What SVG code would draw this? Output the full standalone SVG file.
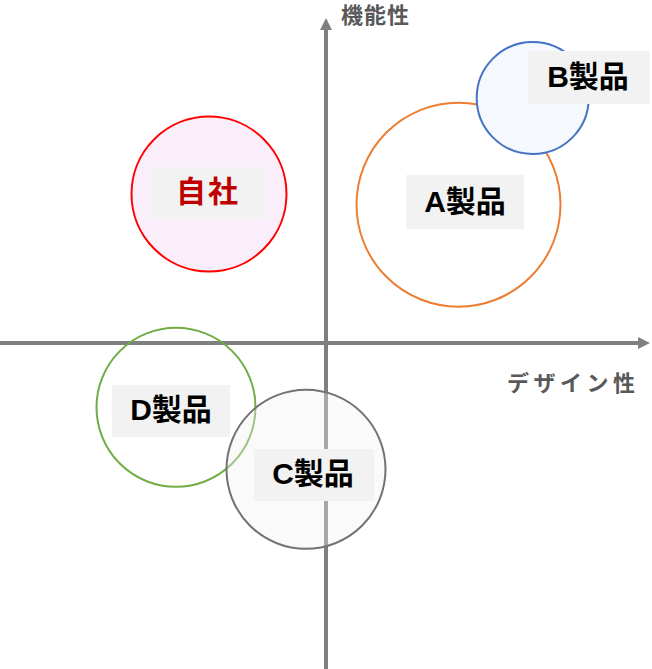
<svg xmlns="http://www.w3.org/2000/svg" width="652" height="669" viewBox="0 0 652 669">
<style>
.axis{stroke:#7f7f7f;stroke-width:4;fill:none}
.lbl{font-family:"Liberation Sans","Noto Sans CJK JP",sans-serif;font-weight:bold;font-size:30px;text-anchor:middle;dominant-baseline:central;fill:#000}
.box{fill:#f2f2f2}
.ax{font-family:"Liberation Sans","Noto Sans CJK JP",sans-serif;font-weight:bold;font-size:22px;fill:#595959}
</style>
<defs>
<marker id="arr" markerWidth="12" markerHeight="12" refX="0" refY="6" orient="auto" markerUnits="userSpaceOnUse">
<path d="M0,0 L12,6 L0,12 Z" fill="#7f7f7f"/>
</marker>
</defs>
<rect width="652" height="669" fill="#fff"/>
<g id="connectors">
<line class="axis" x1="0" y1="343" x2="638" y2="343" marker-end="url(#arr)"/>
<line class="axis" x1="326" y1="669" x2="326" y2="30" marker-end="url(#arr)"/>
</g>
<g id="axis-labels">
<text class="ax" x="341" y="23" font-size="23" letter-spacing="1">機能性</text>
<text class="ax" x="507" y="391" letter-spacing="4.5">デザイン性</text>
</g>
<g id="node-jisha">
<circle cx="209" cy="194" r="77.5" fill="#f9eefa" stroke="#ff0000" stroke-width="2"/>
<rect class="box" x="148" y="167" width="120" height="52"/>
<text class="lbl" x="208" y="191" style="fill:#c00000" letter-spacing="2">自社</text>
</g>
<g id="node-a">
<circle cx="458.5" cy="204.7" r="102" fill="#fff" stroke="#ed7d31" stroke-width="2"/>
<rect class="box" x="406" y="175" width="118" height="54"/>
<text class="lbl" x="465" y="201">A製品</text>
</g>
<g id="node-b">
<circle cx="532.7" cy="98" r="56" fill="#f5f8fd" stroke="#4472c4" stroke-width="2"/>
<rect class="box" x="528" y="51" width="122" height="53"/>
<text class="lbl" x="588" y="76">B製品</text>
</g>
<g id="node-d">
<circle cx="176" cy="407.3" r="79.5" fill="none" stroke="#70ad47" stroke-width="2"/>
<rect class="box" x="112" y="385" width="118" height="52"/>
<text class="lbl" x="171" y="409">D製品</text>
</g>
<g id="node-c">
<circle cx="306" cy="469.3" r="79.5" fill="#f2f2f2" fill-opacity="0.35" stroke="#767171" stroke-width="2"/>
<rect class="box" x="254" y="449" width="120" height="52"/>
<text class="lbl" x="313" y="473">C製品</text>
</g>
</svg>
